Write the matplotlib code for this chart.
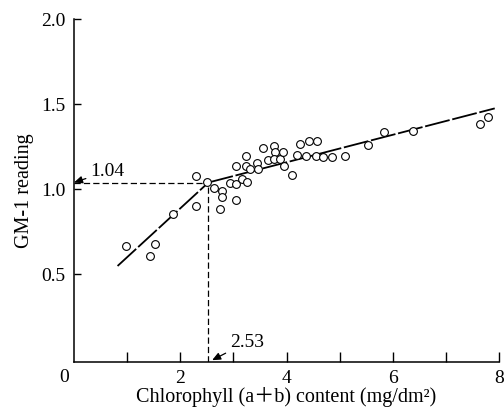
import matplotlib
matplotlib.use("Agg")
import matplotlib.pyplot as plt

chl = [0.98, 1.43, 1.53, 1.86, 2.30, 2.30, 2.51, 2.64, 2.78, 2.78, 2.75, 2.93,
       3.04, 3.05, 3.04, 3.17, 3.25, 3.23, 3.24, 3.31, 3.45, 3.47, 3.55, 3.65,
       3.76, 3.79, 3.77, 3.87, 3.93, 3.95, 4.10, 4.20, 4.25, 4.36, 4.43, 4.58,
       4.56, 4.69, 4.86, 5.11, 5.54, 5.83, 6.39, 7.64, 7.80]
gm1 = [0.666, 0.608, 0.676, 0.853, 1.076, 0.902, 1.043, 1.009, 0.990, 0.955, 0.886, 1.039,
       1.137, 1.033, 0.935, 1.061, 1.045, 1.198, 1.137, 1.121, 1.156, 1.121, 1.245, 1.174,
       1.255, 1.221, 1.180, 1.180, 1.219, 1.139, 1.086, 1.200, 1.266, 1.198, 1.286, 1.284,
       1.198, 1.188, 1.190, 1.198, 1.261, 1.339, 1.341, 1.382, 1.425]

fit1_x = [0.82, 2.53]
fit1_y = [0.549, 1.04]
fit2_x = [2.53, 7.92]
fit2_y = [1.04, 1.476]
break_x = 2.53
break_y = 1.04

x_ticks = [1, 2, 3, 4, 5, 6, 7, 8]
x_labels = ['', '2', '', '4', '', '6', '', '8']
y_ticks = [0.5, 1.0, 1.5, 2.0]
y_labels = ['0.5', '1.0', '1.5', '2.0']

plt.rcParams['font.family'] = ['Liberation Serif', 'Noto Sans CJK JP', 'DejaVu Serif']

fig = plt.figure(figsize=(5.04, 4.09), dpi=100)
ax = fig.add_axes([74/504, 1-361.7/409, (499-74)/504, (361.7-19.3)/409])
ax.set_xlim(0, 8)
ax.set_ylim(-0.014, 2.0)

ax.spines['top'].set_visible(False)
ax.spines['right'].set_visible(False)
for s in ['left', 'bottom']:
    ax.spines[s].set_linewidth(1.1)

# dashed guide lines
ax.plot([0, break_x], [break_y, break_y], color='black', lw=0.9, ls=(0, (5, 2.5)))
ax.plot([break_x, break_x], [-0.014, break_y], color='black', lw=0.9, ls=(0, (5, 2.5)))

# fit lines
ax.plot(fit1_x, fit1_y, color='black', lw=1.3, ls=(0, (14, 1.5)))
ax.plot(fit2_x, fit2_y, color='black', lw=1.3, ls=(0, (14, 1.5)))

ax.plot(chl, gm1, 'o', ms=5.6, mfc='white', mec='black', mew=0.8, zorder=5)

ax.set_xticks(x_ticks)
ax.set_xticklabels(x_labels)
ax.set_yticks(y_ticks)
ax.set_yticklabels(y_labels)
ax.tick_params(axis='x', direction='in', length=7, width=1, labelsize=14, pad=6)
ax.tick_params(axis='y', direction='in', length=5, width=1, labelsize=14, pad=6)

ax.text(-0.18, -0.055, '0', fontsize=14, ha='center', va='top')

ax.set_xlabel('Chlorophyll (a＋b) content (mg/dm²)', fontsize=14.5, labelpad=0)
ax.set_ylabel('GM-1 reading', fontsize=14.5, labelpad=5)

arrow_kw = dict(arrowstyle='-|>,head_length=0.5,head_width=0.22', color='black', lw=0.9,
                shrinkA=1, shrinkB=0, mutation_scale=10)
ax.annotate('1.04', xy=(0, break_y), xytext=(0.3, 1.105), fontsize=14,
            ha='left', va='center', arrowprops=arrow_kw, annotation_clip=False)
ax.annotate('2.53', xy=(2.60, -0.005), xytext=(2.93, 0.10), fontsize=14,
            ha='left', va='center', arrowprops=arrow_kw, annotation_clip=False)

fig.savefig('out.png', dpi=100)
